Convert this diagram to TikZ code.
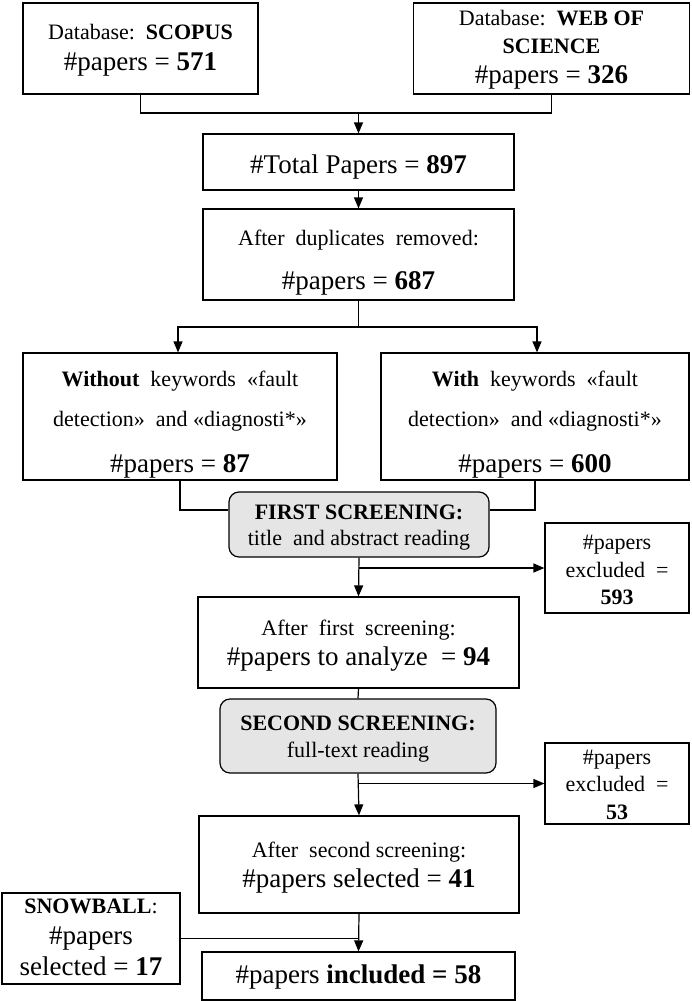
\documentclass[tikz,border=0pt]{standalone}
\usepackage{fontspec}
\setmainfont{Liberation Serif}
\usetikzlibrary{arrows.meta}
\begin{document}
\begin{tikzpicture}[x=1pt,y=-1pt,
  box/.style={draw, line width=1.2pt, rectangle, inner sep=0pt},
  scrbox/.style={box, rounded corners=10pt, fill=gray!20},
  sm/.style={font=\fontsize{22}{26}\selectfont, anchor=mid, inner sep=0pt, yshift=-5pt},
  bg/.style={font=\fontsize{27}{30}\selectfont, anchor=mid, inner sep=0pt, yshift=-5pt},
  md/.style={font=\fontsize{22}{26}\selectfont, anchor=mid, inner sep=0pt, yshift=-5pt},
  ln/.style={line width=1.2pt},
  arr/.style={line width=1.2pt, -{Triangle[length=11pt,width=9pt]}}]
\useasboundingbox (0,0) rectangle (691,1001);
\fill[white] (0,0) rectangle (691,1001);

% boxes
\node[box, minimum width=235pt, minimum height=91pt] (scopus) at (140.5,48.5) {};
\node[box, minimum width=276pt, minimum height=91pt] (wos) at (551.5,48.5) {};
\node[box, minimum width=311pt, minimum height=56pt] (total) at (358.5,162) {};
\node[box, minimum width=311pt, minimum height=91pt] (dup) at (358.5,254.5) {};
\node[box, minimum width=314pt, minimum height=127pt] (without) at (180,416.5) {};
\node[box, minimum width=308pt, minimum height=127pt] (with) at (535,416.5) {};
\node[scrbox, minimum width=260pt, minimum height=65pt] (first) at (359,524.5) {};
\node[box, minimum width=144pt, minimum height=90pt] (exca) at (617,568) {};
\node[box, minimum width=321pt, minimum height=91pt] (aftera) at (358.5,642.5) {};
\node[scrbox, minimum width=276pt, minimum height=74pt] (second) at (358,736) {};
\node[box, minimum width=144pt, minimum height=81pt] (excb) at (617,783.5) {};
\node[box, minimum width=320pt, minimum height=97pt] (afterb) at (359,864.5) {};
\node[box, minimum width=178pt, minimum height=91pt] (snow) at (91,938.5) {};
\node[box, minimum width=313pt, minimum height=48pt] (incl) at (358.5,976) {};

% texts
\node[sm] (scopusA) at (140.5,32) {Database:\ \ \textbf{SCOPUS}};
\node[bg] (scopusB) at (140.5,63) {\#papers = \textbf{571}};
\node[sm] (wosA) at (551.5,18) {Database:\ \ \textbf{WEB OF}};
\node[sm] (wosB) at (551.5,46) {\textbf{SCIENCE}};
\node[bg] (wosC) at (551.5,76) {\#papers = \textbf{326}};
\node[bg] (totalA) at (358.5,166) {\#Total Papers = \textbf{897}};
\node[sm] (dupA) at (358.5,238) {After\ \ duplicates\ \ removed:};
\node[bg] (dupB) at (358.5,282) {\#papers = \textbf{687}};
\node[sm] (withoutA) at (180,379) {\textbf{Without}\ \ keywords\ \ «fault};
\node[sm] (withoutB) at (180,419) {detection»\ \ and\ «diagnosti*»};
\node[bg] (withoutC) at (180,465) {\#papers = \textbf{87}};
\node[sm] (withA) at (535,379) {\textbf{With}\ \ keywords\ \ «fault};
\node[sm] (withB) at (535,419) {detection»\ \ and\ «diagnosti*»};
\node[bg] (withC) at (535,465) {\#papers = \textbf{600}};
\node[sm] (firstA) at (359,512) {\textbf{FIRST SCREENING:}};
\node[sm] (firstB) at (359,538) {title\ \ and abstract reading};
\node[sm] (excaA) at (617,542) {\#papers};
\node[sm] (excaB) at (617,570) {excluded\ \ =};
\node[sm] (excaC) at (617,597) {\textbf{593}};
\node[sm] (afteraA) at (358.5,628) {After\ \ first\ \ screening:};
\node[bg] (afteraB) at (358.5,658) {\#papers to analyze\ \ = \textbf{94}};
\node[sm] (secondA) at (358,723) {\textbf{SECOND SCREENING:}};
\node[sm] (secondB) at (358,750) {full-text reading};
\node[sm] (excbA) at (617,757) {\#papers};
\node[sm] (excbB) at (617,784) {excluded\ \ =};
\node[sm] (excbC) at (617,812) {\textbf{53}};
\node[sm] (afterbA) at (359,850) {After\ \ second screening:};
\node[bg] (afterbB) at (359,880) {\#papers selected = \textbf{41}};
\node[md] (snowA) at (91,906) {\textbf{SNOWBALL}:};
\node[bg] (snowB) at (91,937) {\#papers};
\node[bg] (snowC) at (91,968) {selected = \textbf{17}};
\node[bg] (inclA) at (358.5,976) {\#papers \textbf{included = 58}};

% connectors
\coordinate (ja) at (358.5,113);
\coordinate (jb) at (358.5,327);
\draw[ln] (scopus.south) |- (ja) -| (wos.south);
\draw[arr] (ja) -- (total.north);
\draw[arr] (total.south) -- (dup.north);
\draw[ln] (dup.south) -- (jb);
\draw[arr] (jb) -| ([xshift=-2pt]without.north);
\draw[arr] (jb) -| ([xshift=2pt]with.north);
\draw[ln] (without.south) |- ([yshift=14.5pt]first.west);
\draw[ln] (with.south) |- ([yshift=14.5pt]first.east);
\draw[arr] (first.south) -- (aftera.north);
\draw[arr] (first.south |- exca.west) -- (exca.west);
\draw[ln] (aftera.south) -- (second.north);
\draw[arr] (second.south) -- (afterb.north);
\draw[arr] (second.south |- excb.west) -- (excb.west);
\draw[arr] (afterb.south) -- (incl.north);
\draw[ln] (snow.east) -- (afterb.south |- snow.east);
\end{tikzpicture}
\end{document}
